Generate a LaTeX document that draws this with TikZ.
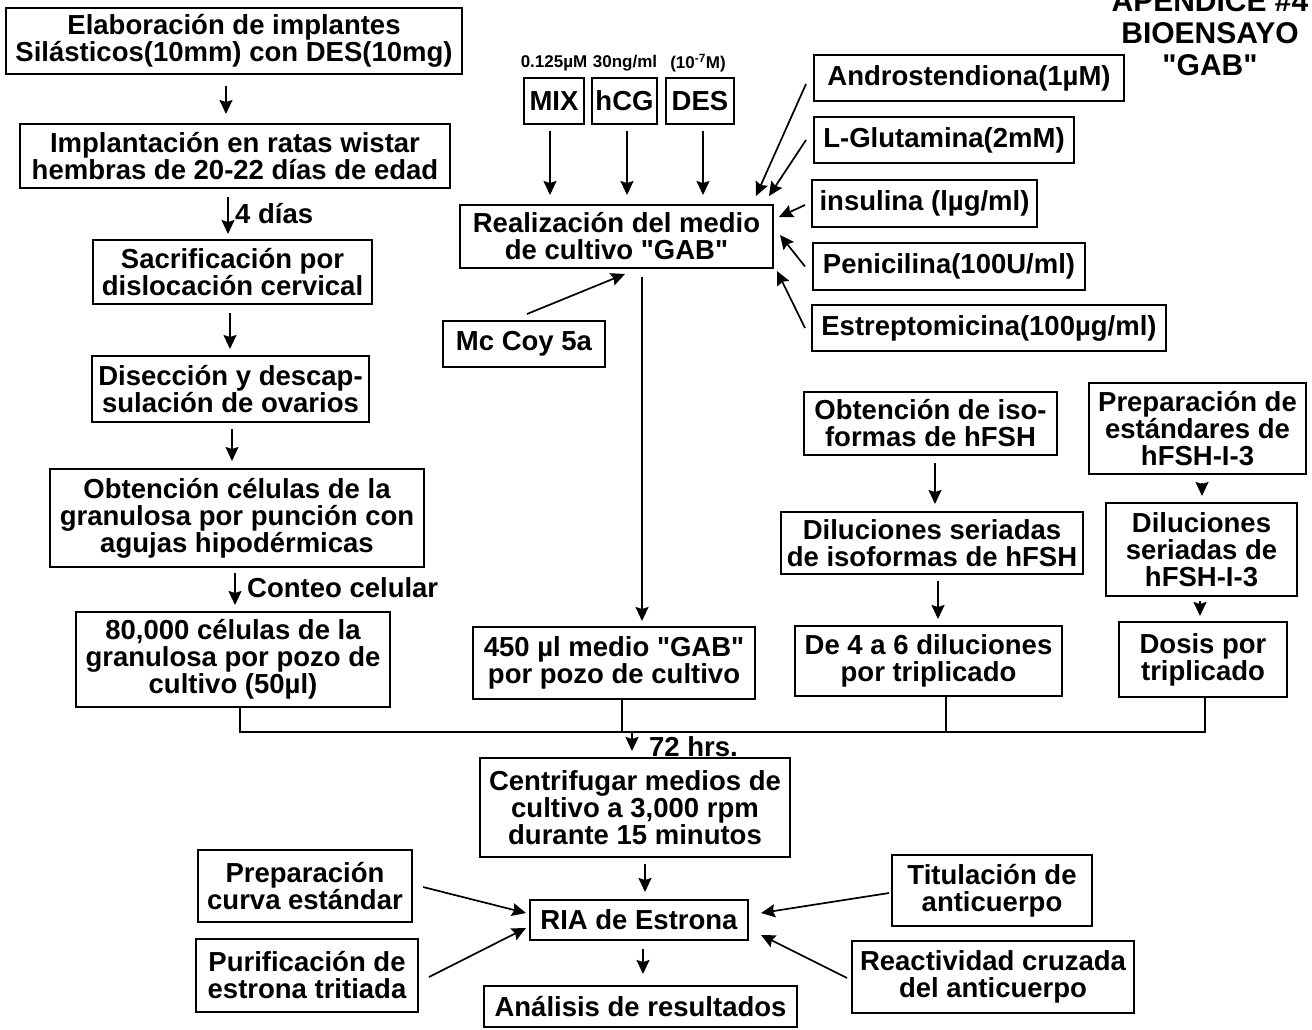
\documentclass[tikz,border=0pt]{standalone}
\usepackage{fontspec}
\setmainfont{Liberation Sans}[Ligatures=TeXOff]
\usetikzlibrary{arrows.meta,calc}
\newcommand{\qd}{\char34\relax}
\begin{document}
\begin{tikzpicture}[x=1pt,y=-1pt,
  box/.style={draw, line width=2pt, align=center, inner sep=0pt, font=\bfseries\fontsize{27.5}{27}\selectfont},
  lbl/.style={inner sep=0pt, font=\bfseries\fontsize{27.5}{27}\selectfont},
  small/.style={inner sep=0pt, font=\bfseries\fontsize{17}{17}\selectfont},
  arr/.style={line width=1.7pt, -{Stealth[length=14pt,width=13pt,inset=2pt]}},
  ln/.style={line width=1.6pt}]
\fill[white] (0,0) rectangle (1312,1029);
\useasboundingbox (0,0) rectangle (1312,1029);

% title
\node[inner sep=0pt, align=center, font=\bfseries\fontsize{30}{32}\selectfont] (title) at (1210,33) {APENDICE \#4\\BIOENSAYO\\\qd GAB\qd};

% left column
\node[box, minimum width=456pt, minimum height=66pt] (elab) at (234,41) {Elaboración de implantes\\Silásticos(10mm) con DES(10mg)};
\node[box, minimum width=430pt, minimum height=64pt] (impl) at (235,156) {Implantación en ratas wistar\\hembras de 20-22 días de edad};
\node[box, minimum width=279pt, minimum height=64pt] (sacr) at (232.5,272) {Sacrificación por\\dislocación cervical};
\node[box, minimum width=277pt, minimum height=66pt] (disec) at (230.5,389) {Disección y descap-\\sulación de ovarios};
\node[box, minimum width=374pt, minimum height=98pt] (obt) at (237,518) {Obtención células de la\\granulosa por punción con\\agujas hipodérmicas};
\node[box, minimum width=314pt, minimum height=95pt] (cel) at (233,659.5) {80,000 células de la\\granulosa por pozo de\\cultivo (50µl)};

\draw[arr, shorten <=11pt, shorten >=9pt] (elab.south -| 226,0) -- (impl.north -| 226,0);
\draw[arr, shorten <=8pt, shorten >=5pt] (impl.south -| 228,0) -- (sacr.north -| 228,0);
\node[lbl, anchor=west] (dias) at (235,214) {4 días};
\draw[arr, shorten <=8pt, shorten >=6pt] (sacr.south -| 230,0) -- (disec.north -| 230,0);
\draw[arr, shorten <=6pt, shorten >=7pt] (disec.south -| 232,0) -- (obt.north -| 232,0);
\draw[arr, shorten <=5pt, shorten >=6pt] (obt.south -| 235,0) -- (cel.north -| 235,0);
\node[lbl, anchor=west] (conteo) at (247,588) {Conteo celular};

% middle top
\node[box, minimum width=60pt, minimum height=46pt] (mix) at (554,101) {MIX};
\node[box, minimum width=65pt, minimum height=46pt] (hcg) at (624.5,101) {hCG};
\node[box, minimum width=68pt, minimum height=46pt] (des) at (700,101) {DES};
\node[small] (lmix) at (554,63) {0.125µM};
\node[small] (lhcg) at (625,63) {30ng/ml};
\node[small] (ldes) at (698,63) {(10\textsuperscript{-7}M)};

\node[box, minimum width=313pt, minimum height=63pt] (real) at (616.5,236.5) {Realización del medio\\de cultivo \qd GAB\qd};
\draw[arr, shorten <=6pt, shorten >=9pt] (mix.south -| 550,0) -- (real.north -| 550,0);
\draw[arr, shorten <=6pt, shorten >=9pt] (hcg.south -| 627,0) -- (real.north -| 627,0);
\draw[arr, shorten <=6pt, shorten >=9pt] (des.south -| 703,0) -- (real.north -| 703,0);

\node[box, minimum width=310pt, minimum height=46pt] (andro) at (969,78) {Androstendiona(1µM)};
\node[box, minimum width=260pt, minimum height=46pt] (lglu) at (944,140) {L-Glutamina(2mM)};
\node[box, minimum width=225pt, minimum height=47pt] (insu) at (924.5,203.5) {insulina (lµg/ml)};
\node[box, minimum width=272pt, minimum height=47pt] (peni) at (949,266.5) {Penicilina(100U/ml)};
\node[box, minimum width=354pt, minimum height=46pt] (estr) at (989,328) {Estreptomicina(100µg/ml)};

\draw[arr] ($(andro.west)+(-7,6)$) -- ($(real.north east)+(-18,-8)$);
\draw[arr] ($(lglu.west)+(-7,0)$) -- ($(real.north east)+(-5,-8)$);
\draw[arr] ($(insu.west)+(-6,1.5)$) -- ($(real.east)+(5,-19.5)$);
\draw[arr] ($(peni.west)+(-7,0)$) -- ($(real.east)+(6,-1.5)$);
\draw[arr] ($(estr.west)+(-6,0)$) -- ($(real.south east)+(3,2)$);

\node[box, minimum width=162pt, minimum height=46pt] (mccoy) at (524,344) {Mc Coy 5a};
\draw[arr] ($(mccoy.north)+(3,-6)$) -- ($(real.south)+(8.5,5)$);

\node[box, minimum width=282pt, minimum height=72pt] (m450) at (614,663) {450 µl medio \qd GAB\qd\\por pozo de cultivo};
\draw[arr, shorten <=8pt, shorten >=5pt] (real.south -| 642,0) -- (m450.north -| 642,0);

% right
\node[box, minimum width=253pt, minimum height=63pt] (iso) at (930.5,423.5) {Obtención de iso-\\formas de hFSH};
\node[box, minimum width=302pt, minimum height=62pt] (dil) at (932,543) {Diluciones seriadas\\de isoformas de hFSH};
\node[box, minimum width=267pt, minimum height=70pt] (de46) at (928.5,661) {De 4 a 6 diluciones\\por triplicado};
\node[box, minimum width=217pt, minimum height=91pt] (prep) at (1197.5,428.5) {Preparación de\\estándares de\\hFSH-I-3};
\node[box, minimum width=191pt, minimum height=93pt] (dil2) at (1201.5,549.5) {Diluciones\\seriadas de\\hFSH-I-3};
\node[box, minimum width=168pt, minimum height=75pt] (dosis) at (1203,659.5) {Dosis por\\triplicado};

\draw[arr, shorten <=7pt, shorten >=7pt] (iso.south -| 935,0) -- (dil.north -| 935,0);
\draw[arr, shorten <=6pt, shorten >=6pt] (dil.south -| 938,0) -- (de46.north -| 938,0);
\draw[arr, shorten <=8pt, shorten >=6pt] (prep.south -| 1202,0) -- (dil2.north -| 1202,0);
\draw[arr, shorten <=4pt, shorten >=5pt] (dil2.south -| 1200,0) -- (dosis.north -| 1200,0);

% collector
\coordinate (busL) at (240,732);
\coordinate (busR) at (1205,732);
\coordinate (j450) at (622,732);
\coordinate (j46) at (946,732);
\coordinate (busM) at (632,732);
\draw[ln] (cel.south -| busL) -- (busL) -- (busR) -- (dosis.south -| busR);
\draw[ln] (m450.south -| j450) -- (j450);
\draw[ln] (de46.south -| j46) -- (j46);

% bottom
\node[box, minimum width=310pt, minimum height=99pt] (centri) at (635,807.5) {Centrifugar medios de\\cultivo a 3,000 rpm\\durante 15 minutos};
\draw[arr, shorten >=6pt] (busM) -- (centri.north -| busM);
\node[lbl, anchor=west] (hrs) at (649,747) {72 hrs.};

\node[box, minimum width=218pt, minimum height=40pt] (ria) at (639,920) {RIA de Estrona};
\node[box, minimum width=313pt, minimum height=41pt] (anal) at (640.5,1006.5) {Análisis de resultados};
\node[box, minimum width=214pt, minimum height=72pt] (prepc) at (305,886) {Preparación\\curva estándar};
\node[box, minimum width=222pt, minimum height=73pt] (purif) at (307,975.5) {Purificación de\\estrona tritiada};
\node[box, minimum width=200pt, minimum height=71pt] (titul) at (992,890.5) {Titulación de\\anticuerpo};
\node[box, minimum width=282pt, minimum height=72pt] (react) at (993,977) {Reactividad cruzada\\del anticuerpo};

\draw[arr, shorten <=6pt, shorten >=7pt] (centri.south -| 645,0) -- (ria.north -| 645,0);
\draw[arr, shorten <=8pt, shorten >=11pt] (ria.south -| 643,0) -- (anal.north -| 643,0);
\draw[arr] ($(prepc.east)+(10,1)$) -- ($(ria.west)+(-3,-7)$);
\draw[arr] ($(purif.east)+(10,1.5)$) -- ($(ria.west)+(-3,8)$);
\draw[arr] ($(titul.west)+(-2,2.5)$) -- ($(ria.east)+(12,-7)$);
\draw[arr] ($(react.west)+(-4,1)$) -- ($(ria.east)+(12,15)$);
\end{tikzpicture}
\end{document}
